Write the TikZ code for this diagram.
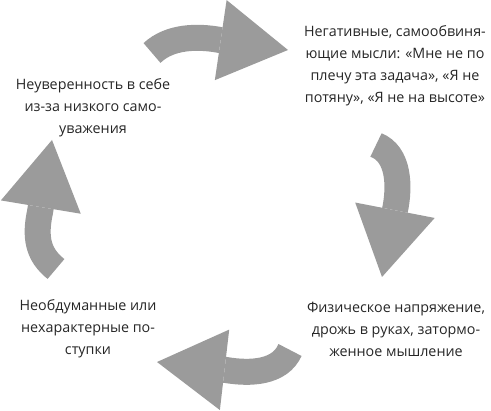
\documentclass[tikz,border=0pt]{standalone}
\usepackage{fontspec}
\setmainfont{Open Sans}
\usetikzlibrary{arrows.meta}
\definecolor{ArrowGray}{HTML}{9B9B9B}
\definecolor{TextDark}{HTML}{262626}
\tikzset{
  note/.style={align=center, inner sep=0pt, text=TextDark,
    font=\fontsize{14.3}{22}\selectfont},
  loopArr/.style={line width=26pt, color=ArrowGray,
    -{Triangle[length=68pt, width=81pt, line width'=0pt]}},
}
\begin{document}
\begin{tikzpicture}[x=1pt, y=-1pt]
\useasboundingbox (0,0) rectangle (491,411);

% Stages of the cycle
\node[note] (doubt) at (93,108) {Неуверенность в себе\\из-за низкого само-\\уважения};
\node[note] (thoughts) at (395,66) {Негативные, самообвиня-\\ющие мысли: «Мне не по\\плечу эта задача», «Я не\\потяну», «Я не на высоте»};
\node[note] (tension) at (396,329) {Физическое напряжение,\\дрожь в руках, затормо-\\женное мышление};
\node[note] (actions) at (88,329) {Необдуманные или\\нехарактерные по-\\ступки};

% Arrow ends
\coordinate (doubtOut) at (152,53);
\coordinate (thoughtsBase) at (220,40);
\coordinate (thoughtsIn) at (288,50);
\coordinate (thoughtsOut) at (376,145);
\coordinate (tensionBase) at (395,210);
\coordinate (tensionIn) at (382,277);
\coordinate (tensionOut) at (290,350);
\coordinate (actionsBase) at (226,370);
\coordinate (actionsIn) at (157,362);
\coordinate (actionsOut) at (56,269);
\coordinate (doubtBase) at (40,212);
\coordinate (doubtIn) at (52,140);

% Curved arrows
\draw[loopArr] (doubtOut) .. controls (170,36) and (198,36) .. (thoughtsBase) -- (thoughtsIn);
\draw[loopArr] (thoughtsOut) .. controls (399,154) and (400,186) .. (tensionBase) -- (tensionIn);
\draw[loopArr] (tensionOut) .. controls (280,373) and (250,374) .. (actionsBase) -- (actionsIn);
\draw[loopArr] (actionsOut) .. controls (37,254) and (35,236) .. (doubtBase) -- (doubtIn);

\end{tikzpicture}
\end{document}
